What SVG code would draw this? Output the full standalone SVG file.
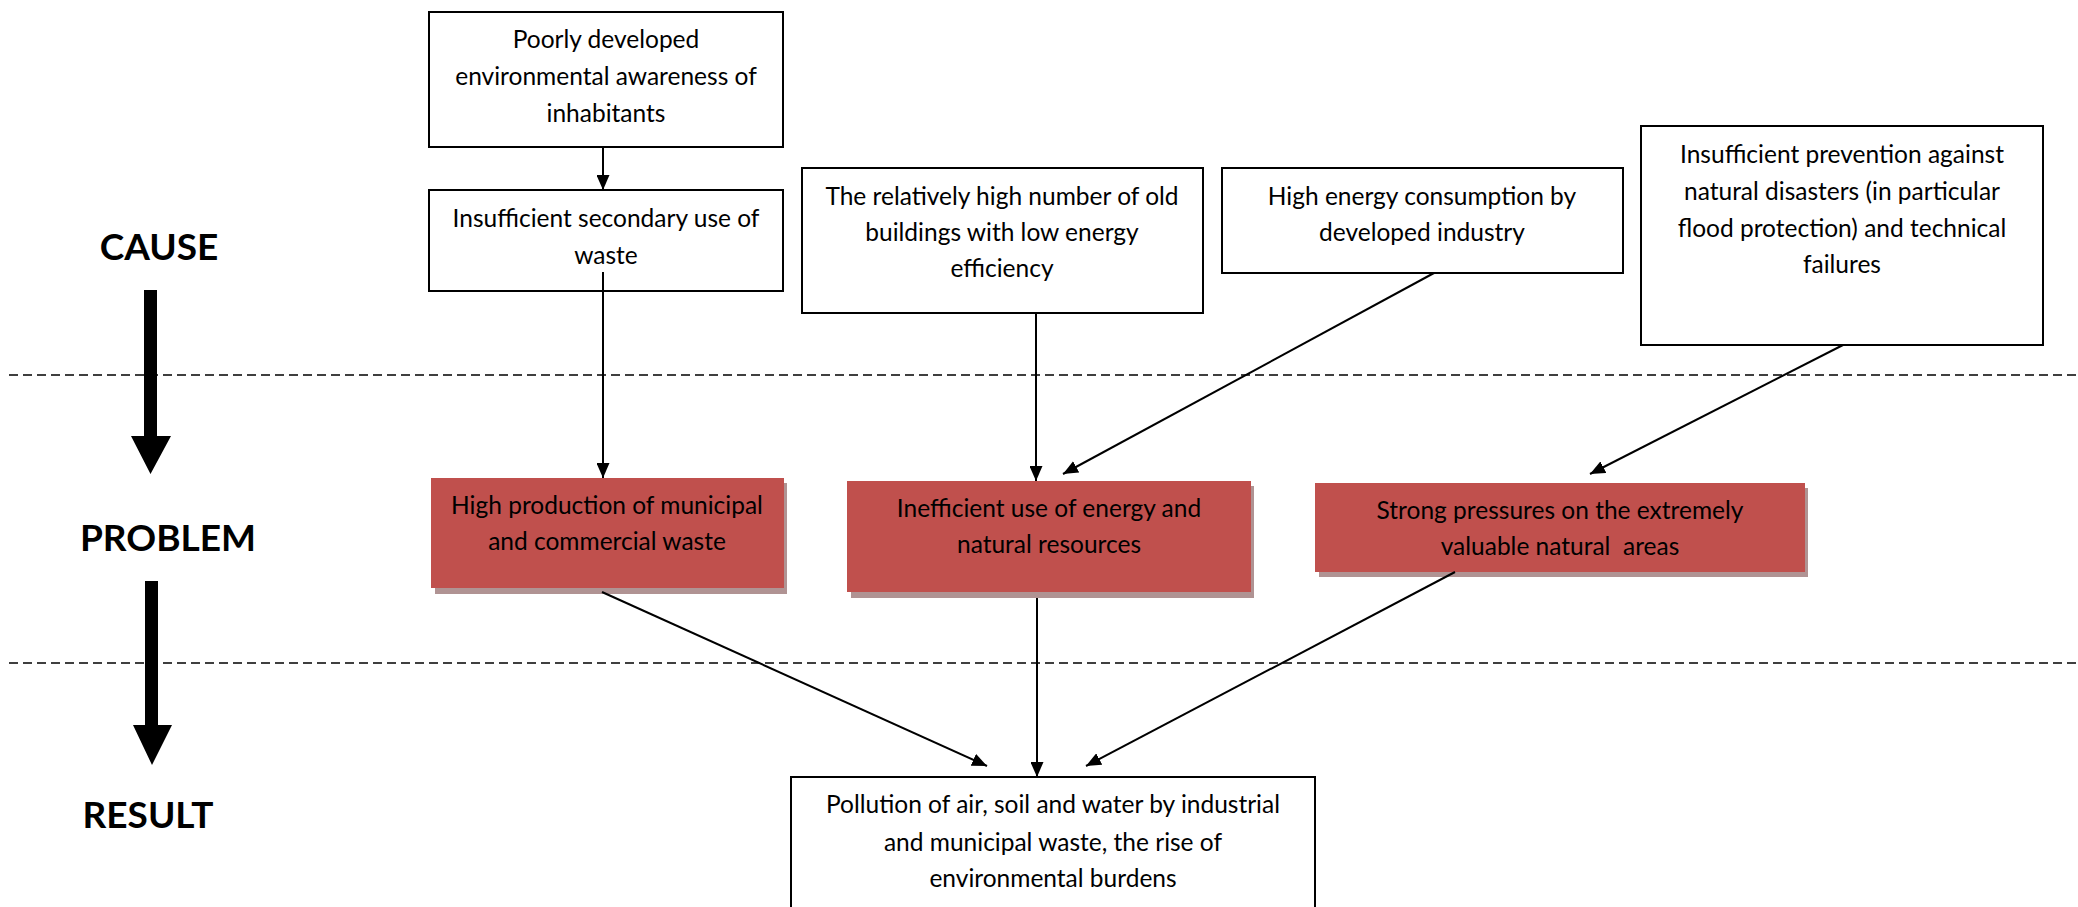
<svg xmlns="http://www.w3.org/2000/svg" width="2078" height="907" viewBox="0 0 2078 907">
<style>
.box{fill:#fff;stroke:#000;stroke-width:2}
.red{fill:#C0504D}
.shadow{fill:#B09393}
.t{font-family:Lato,"Liberation Sans",sans-serif;font-size:24.5px;fill:#000;text-anchor:middle}
.h{font-family:Lato,"Liberation Sans",sans-serif;font-size:37px;font-weight:bold;fill:#000;text-anchor:middle}
.c{stroke:#000;stroke-width:2;fill:none;marker-end:url(#ah)}
.dash{stroke:#000;stroke-width:1.5;stroke-dasharray:9 5}
</style>
<defs>
<marker id="ah" markerUnits="userSpaceOnUse" markerWidth="15" markerHeight="13" refX="15" refY="6.5" orient="auto">
<path d="M0,0 L15,6.5 L0,13 z" fill="#000"/>
</marker>
</defs>
<rect width="2078" height="907" fill="#fff"/>
<g id="dividers">
<line class="dash" x1="9" y1="375" x2="2078" y2="375"/>
<line class="dash" x1="9" y1="663" x2="2078" y2="663"/>
</g>
<g id="labels">
<text class="h" x="159" y="260">CAUSE</text>
<polygon points="144,290 157,290 157,436 171,436 150.5,474 131,436 144,436" fill="#000"/>
<text class="h" x="168" y="551">PROBLEM</text>
<polygon points="145,581 158,581 158,725 172,725 152,765 133,725 145,725" fill="#000"/>
<text class="h" x="148" y="828">RESULT</text>
</g>
<g id="n1">
<rect class="box" x="429" y="12" width="354" height="135"/>
<text class="t" x="606" y="48">Poorly developed</text>
<text class="t" x="606" y="85">environmental awareness of</text>
<text class="t" x="606" y="122">inhabitants</text>
</g>
<g id="n2">
<rect class="box" x="429" y="190" width="354" height="101"/>
<text class="t" x="606" y="227">Insufficient secondary use of</text>
<text class="t" x="606" y="264">waste</text>
</g>
<g id="n3">
<rect class="box" x="802" y="168" width="401" height="145"/>
<text class="t" x="1002" y="205">The relatively high number of old</text>
<text class="t" x="1002" y="241">buildings with low energy</text>
<text class="t" x="1002" y="277">efficiency</text>
</g>
<g id="n4">
<rect class="box" x="1222" y="168" width="401" height="105"/>
<text class="t" x="1422" y="205">High energy consumption by</text>
<text class="t" x="1422" y="241">developed industry</text>
</g>
<g id="n5">
<rect class="box" x="1641" y="126" width="402" height="219"/>
<text class="t" x="1842" y="163">Insufficient prevention against</text>
<text class="t" x="1842" y="200">natural disasters (in particular</text>
<text class="t" x="1842" y="237">flood protection) and technical</text>
<text class="t" x="1842" y="273">failures</text>
</g>
<g id="p1">
<rect class="shadow" x="435" y="483" width="352" height="111"/>
<rect class="red" x="431" y="478" width="353" height="110"/>
<text class="t" x="607" y="514">High production of municipal</text>
<text class="t" x="607" y="550">and commercial waste</text>
</g>
<g id="p2">
<rect class="shadow" x="851" y="486" width="403" height="112"/>
<rect class="red" x="847" y="481" width="404" height="111"/>
<text class="t" x="1049" y="517">Inefficient use of energy and</text>
<text class="t" x="1049" y="553">natural resources</text>
</g>
<g id="p3">
<rect class="shadow" x="1319" y="488" width="489" height="89"/>
<rect class="red" x="1315" y="483" width="490" height="89"/>
<text class="t" x="1560" y="519">Strong pressures on the extremely</text>
<text class="t" x="1560" y="555" xml:space="preserve">valuable natural  areas</text>
</g>
<g id="r1">
<rect class="box" x="791" y="777" width="524" height="150"/>
<text class="t" x="1053" y="813">Pollution of air, soil and water by industrial</text>
<text class="t" x="1053" y="851">and municipal waste, the rise of</text>
<text class="t" x="1053" y="887">environmental burdens</text>
</g>
<g id="connectors">
<line class="c" x1="603" y1="147" x2="603" y2="190"/>
<line class="c" x1="603" y1="272" x2="603" y2="478"/>
<line class="c" x1="1036" y1="313" x2="1036" y2="481"/>
<line class="c" x1="1434" y1="273" x2="1063" y2="474"/>
<line class="c" x1="1843" y1="345" x2="1590" y2="474"/>
<line class="c" x1="602" y1="592" x2="987" y2="766"/>
<line class="c" x1="1037" y1="598" x2="1037" y2="777"/>
<line class="c" x1="1455" y1="572" x2="1086" y2="766"/>
</g>
</svg>
